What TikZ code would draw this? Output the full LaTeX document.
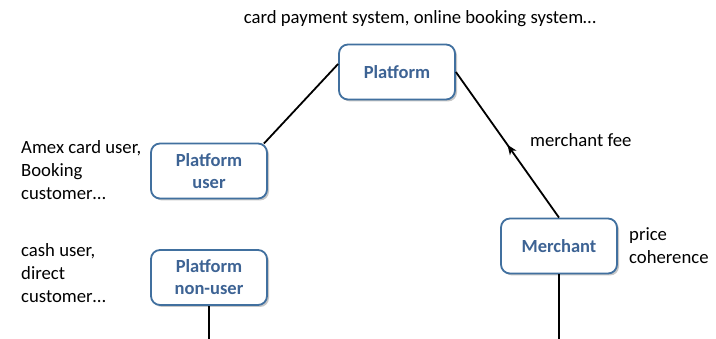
\documentclass[tikz,border=0pt]{standalone}
\usepackage{fontspec}
\setmainfont{Carlito}
\usetikzlibrary{shadows,decorations.markings,arrows.meta}
\definecolor{boxblue}{HTML}{41709F}
\definecolor{txtblue}{HTML}{3D6394}
\begin{document}
\begin{tikzpicture}[x=1pt,y=-1pt,
  pbox/.style={draw=boxblue,line width=1.8pt,rounded corners=9pt,fill=white,
    minimum width=116pt,minimum height=55pt,align=center,inner sep=0pt,
    font=\fontsize{18.5}{22}\selectfont\bfseries,text=txtblue,
    drop shadow={shadow xshift=2pt,shadow yshift=-2pt,fill=black!40,opacity=0.55}},
  lbl/.style={font=\fontsize{18.7}{23}\selectfont,align=left,inner sep=0pt,anchor=north west},
  conn/.style={line width=1.8pt},
  midarrow/.style={conn,postaction={decorate},decoration={markings,
    mark=at position 0.5 with {\arrow{Stealth[length=10pt,width=8pt,inset=3pt]}}}}]
\useasboundingbox (0,0) rectangle (716,339);
\node[pbox] (plat) at (397,72) {Platform};
\node[pbox] (user) at (209,171) {Platform\\user};
\node[pbox] (nonuser) at (209,277.5) {Platform\\non-user};
\node[pbox] (merch) at (559,246) {Merchant};
\coordinate (nuend) at (209,339);
\coordinate (meend) at (559,339);
\node[font=\fontsize{18.7}{23}\selectfont,inner sep=0pt] (top) at (420,19) {card payment system, online booking system…};
\node[lbl] (ulbl) at (21,140) {Amex card user,\\Booking\\customer…};
\node[lbl] (nlbl) at (21,243) {cash user,\\direct\\customer…};
\node[lbl] (fee) at (530,133) {merchant fee};
\node[lbl] (pc) at (629,227) {price\\coherence};
\draw[conn] ([yshift=8pt]plat.west) -- ([xshift=-4pt,yshift=-1pt]user.north east);
\draw[midarrow] (merch.north) -- (plat.east);
\draw[conn] (nonuser.south) -- (nuend);
\draw[conn] (merch.south) -- (meend);
\end{tikzpicture}
\end{document}
